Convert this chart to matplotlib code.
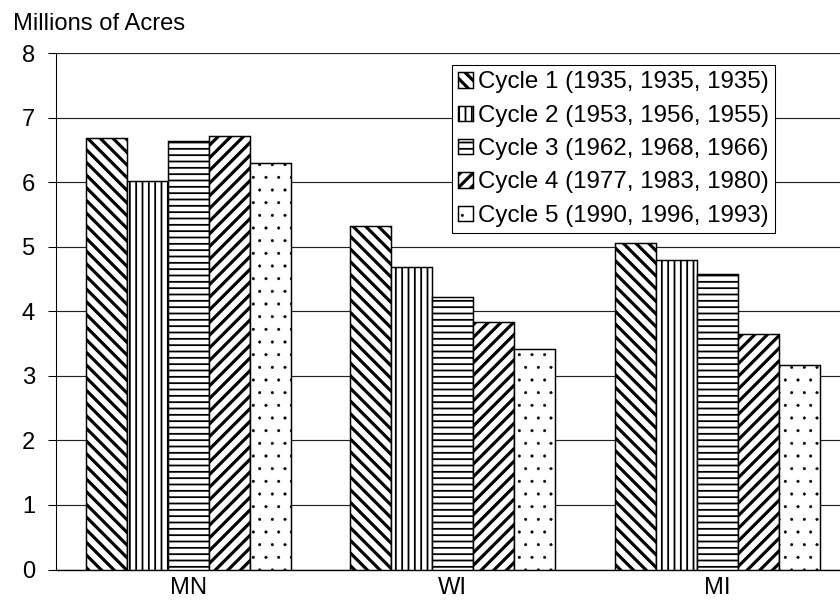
import matplotlib
matplotlib.use("Agg")
import matplotlib.pyplot as plt
import numpy as np

states = ["MN", "WI", "MI"]
cycle_labels = [
    "Cycle 1 (1935, 1935, 1935)",
    "Cycle 2 (1953, 1956, 1955)",
    "Cycle 3 (1962, 1968, 1966)",
    "Cycle 4 (1977, 1983, 1980)",
    "Cycle 5 (1990, 1996, 1993)",
]
cycle1 = [6.68, 5.32, 5.05]
cycle2 = [6.01, 4.68, 4.80]
cycle3 = [6.64, 4.22, 4.57]
cycle4 = [6.71, 3.84, 3.64]
cycle5 = [6.30, 3.41, 3.16]
series = [cycle1, cycle2, cycle3, cycle4, cycle5]
hatches = ["\\\\", "||", "--", "//", "."]
hatch_lw = [3.0, 1.7, 1.7, 3.0, 0.4]
yticks = [0, 1, 2, 3, 4, 5, 6, 7, 8]

DPI = 76
FS = 22.5
LFS = 22.8
plt.rcParams['font.family'] = ['Liberation Sans', 'DejaVu Sans']
plt.rcParams['hatch.color'] = 'black'


def wrap_draw(artist, lw):
    orig = artist.draw

    def draw(renderer, *args, **kwargs):
        with plt.rc_context({'hatch.linewidth': lw}):
            return orig(renderer, *args, **kwargs)
    artist.draw = draw
    try:
        artist.set_hatch_linewidth(lw)
    except Exception:
        pass


fig = plt.figure(figsize=(840 / DPI, 603 / DPI), dpi=DPI)
ax = fig.add_axes([56 / 840, 1 - 569.5 / 603, 793.5 / 840, (569.5 - 53) / 603])

x = np.arange(len(states))
w = 0.155
handles = []
for j, vals in enumerate(series):
    with plt.rc_context({'hatch.linewidth': hatch_lw[j]}):
        bars = ax.bar(x + (j - 2) * w, vals, width=w, color='white', edgecolor='black',
                      linewidth=1.4, hatch=hatches[j], label=cycle_labels[j], zorder=3)
    for b in bars:
        wrap_draw(b, hatch_lw[j])
    handles.append(bars)

ax.set_xlim(-0.5, 2.5)
ax.set_ylim(0, 8)
ax.set_yticks(yticks)
ax.set_xticks(x)
ax.set_xticklabels(states)
ax.tick_params(axis='y', direction='out', length=8, width=1, pad=12, labelsize=FS, color='black')
ax.tick_params(axis='x', length=0, pad=7, labelsize=FS)
ax.grid(axis='y', color='#222222', linewidth=1.1, zorder=0)
ax.set_axisbelow(True)
for s in ['top', 'right']:
    ax.spines[s].set_visible(False)
ax.spines['left'].set_color('black')
ax.spines['left'].set_linewidth(1.0)
ax.spines['bottom'].set_color('black')
ax.spines['bottom'].set_linewidth(1.3)

fig.text(13 / 840, 1 - 29.5 / 603, "Millions of Acres", fontsize=FS, ha='left', va='baseline')

leg = ax.legend(handles=handles, labels=cycle_labels, loc='upper left',
                bbox_to_anchor=(452 / 840, 1 - 65 / 603), bbox_transform=fig.transFigure,
                borderaxespad=0, fontsize=LFS, fancybox=False, frameon=True,
                edgecolor='black', framealpha=1, handlelength=0.6, handleheight=0.6,
                handletextpad=0.2, labelspacing=0.47, borderpad=0.27)
leg.get_frame().set_linewidth(1.0)
leg.set_zorder(5)
for j, p in enumerate(leg.get_patches()):
    wrap_draw(p, hatch_lw[j])

fig.savefig("out.png", dpi=DPI)
